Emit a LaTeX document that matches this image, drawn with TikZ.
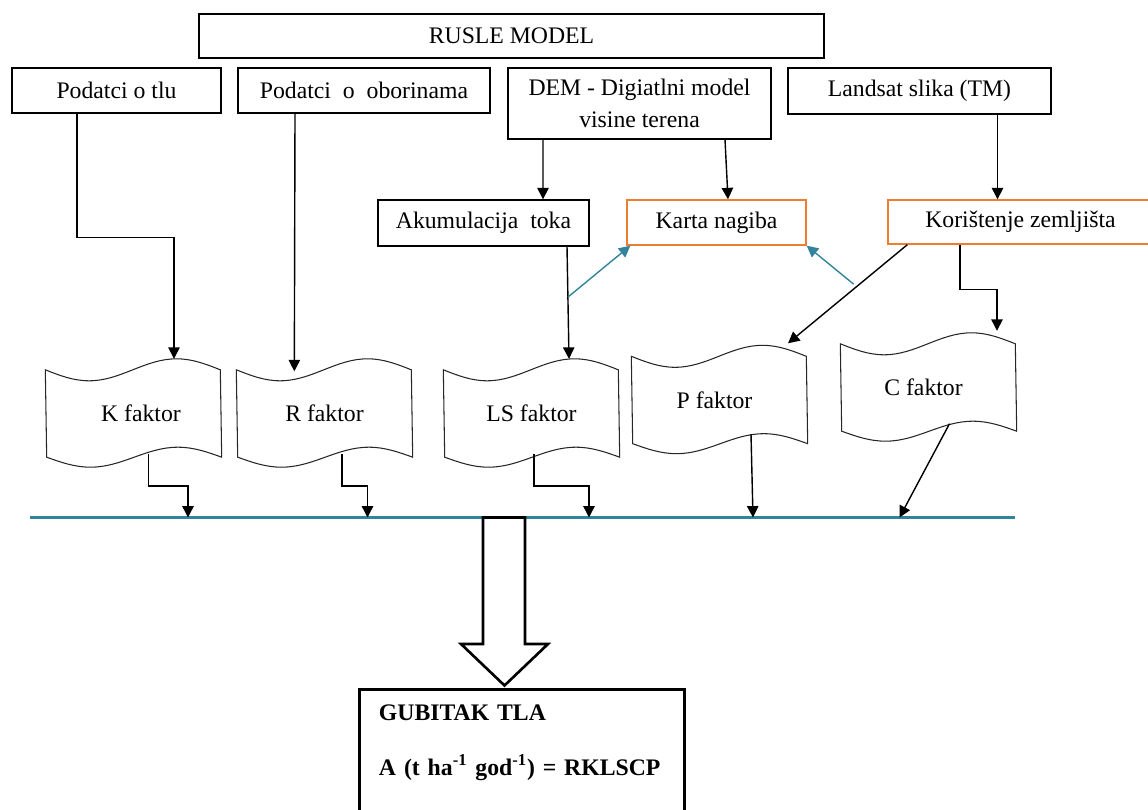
\documentclass[tikz,border=0pt]{standalone}
\usepackage{fontspec}
\setmainfont{Liberation Serif}
\usepackage{tikz}
\usetikzlibrary{positioning,arrows.meta,calc}

\definecolor{busteal}{HTML}{31849B}
\definecolor{slopeorange}{HTML}{ED7D31}

\begin{document}
\begin{tikzpicture}[x=0.02cm, y=-0.02cm, >={Triangle[length=6.5pt,width=6.5pt]}, thick,
    font=\fontsize{13.5}{16.5}\selectfont]
    % Styles
    \tikzstyle{source}=[rectangle, draw, align=center, inner sep=0pt, minimum height=0.9cm]
    \tikzstyle{derived}=[source, draw=slopeorange]
    \tikzstyle{faktor}=[rectangle, inner sep=0pt, minimum width=3.5cm, minimum height=1.72cm]
    \tikzstyle{tape}=[draw=black!85, line width=0.6pt]
    \tikzstyle{bus}=[draw=busteal, line width=1.4pt]
    \tikzstyle{feed}=[->, busteal, line width=0.8pt]
    \tikzstyle{result}=[rectangle, draw, line width=1.7pt, anchor=north west, align=left, inner xsep=0.39cm, inner ysep=8.5pt, text width=5.72cm, text depth=2.2cm, font=\fontsize{13.5}{16.5}\selectfont\bfseries]

    \useasboundingbox (0,0) rectangle (1148,810);
    \clip (0,0) rectangle (1148,810);

    % Data sources
    \node (rusle) [source, minimum width=12.5cm, minimum height=0.88cm] at (511.5,36) {RUSLE MODEL};
    \node (tlu) [source, minimum width=4.18cm] at (116.5,90.5) {Podatci o tlu};
    \node (oborine) [source, minimum width=5.04cm] at (364,90.5) {Podatci\ \ o\ \ oborinama};
    \node (dem) [source, minimum width=5.26cm, minimum height=1.42cm] at (639.5,103.5) {DEM - Digiatlni model\\[1.7pt]visine terena};
    \node (landsat) [source, minimum width=5.26cm, minimum height=0.92cm] at (919.5,91) {Landsat slika (TM)};

    % Derived layers
    \node (akum) [source, minimum width=4.22cm, minimum height=0.92cm] at (483.5,223) {Akumulacija\ \ toka};
    \node (karta) [derived, minimum width=3.58cm] at (716.5,222.5) {Karta nagiba};
    \node (koris) [derived, minimum width=5.3cm, minimum height=0.88cm] at (1020.5,222) {Korištenje zemljišta};

    % Factors
    \node (kf) [faktor] at (133.5,413.5) {\hspace*{0.3cm}K faktor};
    \node (rf) [faktor] at (324.5,413.5) {R faktor};
    \node (lsf) [faktor] at (531.5,413.5) {LS faktor};
    \node (pf) [faktor] at (719.5,400) {P faktor\hspace*{0.2cm}};
    \node (cf) [faktor] at (928.5,387.5) {C faktor\hspace*{0.2cm}};
    \foreach \n in {kf,rf,lsf,pf,cf}
        \draw[tape] (\n.north west) sin ++(43.75,11) cos ++(43.75,-11) sin ++(43.75,-11) cos ++(43.75,11)
            -- (\n.south east) sin ++(-43.75,-10) cos ++(-43.75,10) sin ++(-43.75,10) cos ++(-43.75,-10) -- cycle;

    % Inputs to factors
    \draw[->] ($(tlu.south)+(-39.5,0)$) -- ++(0,124) -| ($(kf.north)+(40.5,-11)$);
    \draw[->] ($(oborine.south)+(-69,0)$) -- ($(rf.north west)+(58,1.5)$);
    \draw[->] ($(dem.south)+(-96.5,0)$) -- ($(akum.north)+(59.5,0)$);
    \draw[->] ($(dem.south)+(85.5,0)$) -- ($(karta.north)+(11.5,0)$);
    \draw[->] ($(landsat.south)+(78,0)$) -- ($(koris.north)+(-23,0)$);
    \draw[->] ($(akum.south)+(83.5,0)$) -- coordinate[pos=.45] (ls1) ($(lsf.north)+(37.5,-11)$);
    \draw[feed] (ls1) -- ($(karta.south west)+(4,0)$);
    \draw[->] ($(koris.south west)+(20,0)$) -- coordinate[pos=.4] (p1) ($(pf.north)+(68.5,-13)$);
    \draw[feed] ($(p1)+(-6,0)$) -- (karta.south east);
    \draw[->] ($(koris.south)+(-60.5,0)$) -- ++(0,45) -| ($(cf.north)+(68.5,-13)$);

    % Collecting line
    \coordinate (busw) at (30,517.5);
    \coordinate (buse) at (1015,517.5);
    \draw[bus] (busw) -- (buse);
    \draw[->] ($(kf.south)+(15,-3)$) -- ++(0,32) -| ($(busw)+(158,0)$);
    \draw[->] ($(rf.south)+(17.5,-3)$) -- ++(0,32) -| ($(busw)+(337.5,0)$);
    \draw[->] ($(lsf.south)+(2.5,-3)$) -- ++(0,32) -| ($(busw)+(559,0)$);
    \draw[->] ($(pf.south)+(31.5,-9.5)$) -- ($(busw)+(723,0)$);
    \draw[->] ($(cf.south)+(21,-7.5)$) -- ($(busw)+(869.5,0)$);

    % Result
    \node (loss) [result] at (358,688) {GUBITAK TLA\\[14.8pt]A (t ha\textsuperscript{-1} god\textsuperscript{-1}) = RKLSCP};
    \draw[line width=1.5pt, fill=white] ($(busw)+(453,0)$) -- ++(0,126.5) -- ++(-22,0) -- ++(43.5,41.5)
        -- ++(43.5,-41.5) -- ++(-23,0) -- ++(0,-126.5) -- cycle;

\end{tikzpicture}
\end{document}
